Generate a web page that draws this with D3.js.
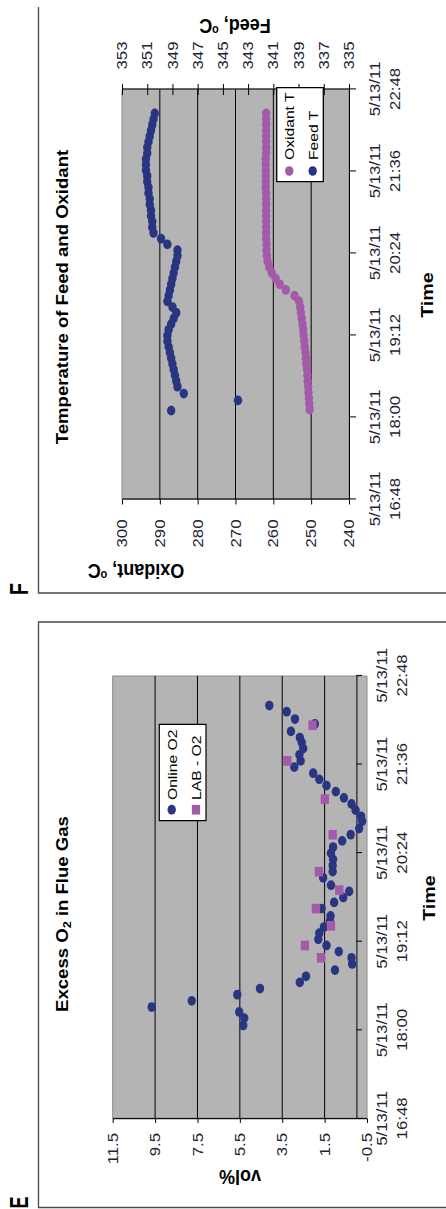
<!DOCTYPE html>
<html>
<head>
<meta charset="utf-8">
<script src="https://cdn.jsdelivr.net/npm/d3@7"></script>
<style>
  html, body { margin: 0; padding: 0; background: #fff; }
  svg { display: block; }
  text { font-family: "Liberation Sans", Arial, sans-serif; }
</style>
</head>
<body>
<svg id="fig" width="446" height="1209"></svg>
<script>
// ---- Panel F: temperature of feed and oxidant ----
const feedTimes = ["18:06","18:15","18:21","18:27","18:32","18:37","18:42","18:47","18:52","18:57",
  "19:02","19:07","19:12","19:17","19:22","19:27","19:32","19:37","19:42","19:47","19:52","19:57",
  "20:02","20:07","20:12","20:17","20:22","20:27","20:32","20:37","20:42","20:47","20:52","20:57",
  "21:02","21:07","21:12","21:17","21:22","21:27","21:32","21:37","21:42","21:47","21:52","21:57",
  "22:02","22:07","22:12","22:17","22:22","22:27"];
const feedTemps = [349.1, 343.8, 348.1, 348.6, 348.7, 348.8, 348.9, 349.0, 349.1, 349.2,
  349.3, 349.4, 349.4, 349.3, 349.1, 348.9, 348.7, 349.0, 349.4, 349.3, 349.2, 349.1,
  349.0, 348.9, 348.8, 348.7, 348.6, 348.6, 349.4, 349.9, 350.5, 350.6, 350.6, 350.7,
  350.7, 350.8, 350.8, 350.9, 350.9, 351.0, 351.0, 351.1, 351.1, 351.1, 351.0, 351.0,
  350.9, 350.8, 350.7, 350.6, 350.5, 350.4];

const oxidantTimes = ["18:07","18:12","18:17","18:22","18:27","18:32","18:37","18:42","18:47","18:52","18:57",
  "19:02","19:07","19:12","19:17","19:22","19:27","19:32","19:37","19:42","19:47","19:52","19:57",
  "20:02","20:07","20:12","20:17","20:22","20:27","20:32","20:37","20:42","20:47","20:52","20:57",
  "21:02","21:07","21:12","21:17","21:22","21:27","21:32","21:37","21:42","21:47","21:52","21:57",
  "22:02","22:07","22:12","22:17","22:22","22:27"];
const oxidantTemps = [250.4, 250.5, 250.6, 250.7, 250.8, 250.9, 251.0, 251.1, 251.3, 251.4, 251.5,
  251.7, 251.8, 252.0, 252.1, 252.3, 252.5, 252.7, 252.9, 253.2, 254.4, 256.7, 258.3,
  259.4, 260.4, 261.1, 261.5, 261.7, 261.8, 261.8, 261.9, 261.9, 261.9, 261.9, 261.9,
  261.9, 261.9, 261.9, 261.9, 262.0, 262.0, 262.0, 262.0, 262.0, 262.0, 261.9, 261.9,
  261.9, 261.9, 261.9, 261.9, 261.9, 261.9];

const oxidantTicks = [240, 250, 260, 270, 280, 290, 300];
const oxidantGrid = [250, 260, 270, 280, 290];
const feedTicks = [335, 337, 339, 341, 343, 345, 347, 349, 351, 353];

// ---- Panel E: excess O2 in flue gas ----
const onlineTimes = ["18:04","18:10","18:15","18:19","18:24","18:29","18:34","18:39","18:44","18:49",
  "18:54","18:59","19:04","19:09","19:14","19:19","19:24","19:29","19:33","19:39","19:44","19:48",
  "19:53","19:58","20:04","20:09","20:14","20:19","20:24","20:29","20:34","20:39","20:44","20:50",
  "20:54","20:59","21:04","21:09","21:14","21:19","21:24","21:29","21:34","21:39","21:44","21:49",
  "21:54","21:58","22:03","22:09","22:13","22:19","22:24"];
const onlineO2 = [5.34, 5.29, 5.53, 9.66, 7.77, 5.62, 4.55, 2.67, 2.38, 1.01,
  0.20, 0.23, 0.83, 1.41, 1.80, 1.75, 1.53, 1.25, 1.22, 1.64, 1.05, 0.62,
  0.34, 1.20, 1.57, 1.12, 1.12, 1.10, 1.20, 1.10, 0.67, 0.27, -0.13, -0.27,
  -0.22, 0.04, 0.23, 0.59, 0.97, 1.41, 1.75, 2.04, 2.93, 2.63, 2.69, 2.51,
  2.58, 2.67, 3.09, 1.96, 2.90, 3.29, 4.11];

const labTimes = ["18:59","19:09","19:25","19:39","19:54","20:09","20:39","21:08","21:39","22:08"];
const labO2 = [1.67, 2.43, 1.20, 1.91, 0.81, 1.77, 1.12, 1.49, 3.26, 2.07];

const o2Ticks = [-0.5, 1.5, 3.5, 5.5, 7.5, 9.5, 11.5];
const o2Grid = [1.5, 3.5, 5.5, 7.5, 9.5];

// shared time axis
const timeTicks = ["16:48", "18:00", "19:12", "20:24", "21:36", "22:48"];
const tickDate = "5/13/11";

// ---- layout ----
// The page is drawn turned a quarter turn: the chart's own horizontal axis runs
// up the page. SX stretches that direction slightly.
const W = 446, H = 1209, SX = 1.16;
const sy = Y => (H - Y) / SX;           // page row -> chart x
const parseT = d3.timeParse("%H:%M");

const NAVY = "#2a3582", PURPLE = "#a35aa8", PLOT = "#b4b4b5", INK = "#1e2433";
const TICK_FONT = 14.5;

const svg = d3.select("#fig");
const page = svg.append("g")
  .attr("transform", `translate(0,${H}) rotate(-90) scale(${SX},1)`);

function styleAxis(ax) {
  ax.attr("font-family", '"Liberation Sans", Arial, sans-serif').attr("font-size", TICK_FONT);
  ax.selectAll("path, line").attr("stroke", "#000").attr("stroke-width", 1)
    .attr("vector-effect", "non-scaling-stroke");
  ax.selectAll("text").attr("fill", INK);
}

function timeAxis(g, x, yPos, tickLen, base1, base2) {
  const ax = g.append("g").attr("transform", `translate(0,${yPos})`)
    .call(d3.axisBottom(x).tickValues(timeTicks.map(parseT))
      .tickSize(tickLen).tickSizeOuter(0).tickFormat(""));
  styleAxis(ax);
  ax.selectAll(".tick text").remove();
  const t = ax.selectAll(".tick").append("text")
    .attr("text-anchor", "middle").attr("fill", INK).attr("font-size", TICK_FONT);
  t.append("tspan").attr("x", 0).attr("y", base1).text(tickDate);
  t.append("tspan").attr("x", 0).attr("y", base2).text((d, i) => timeTicks[i]);
  return ax;
}

function line(g, d) {
  return g.append("path").attr("d", d).attr("fill", "none")
    .attr("vector-effect", "non-scaling-stroke");
}

// =================== Panel E ===================
{
  const g = page.append("g");
  line(g, `M${sy(1207.5)},${W + 5} V38.5 H${sy(622)} V${W + 5}`)
    .attr("stroke", "#4a4a4a").attr("stroke-width", 1.3);

  const x = d3.scaleTime().domain([parseT("16:48"), parseT("22:48")]).range([sy(1119), sy(676)]);
  const y = d3.scaleLinear().domain([-0.5, 11.5]).range([367, 112.7]);
  const [x0, x1] = x.range();

  g.append("rect").attr("x", x0).attr("y", y(11.5)).attr("width", x1 - x0)
    .attr("height", y(-0.5) - y(11.5)).attr("fill", PLOT)
    .attr("stroke", "#8a8a8a").attr("stroke-width", 1).attr("vector-effect", "non-scaling-stroke");

  g.selectAll("line.grid").data(o2Grid).join("line").attr("class", "grid")
    .attr("x1", x0).attr("x2", x1).attr("y1", d => y(d)).attr("y2", d => y(d))
    .attr("stroke", "#000").attr("stroke-width", 1).attr("vector-effect", "non-scaling-stroke");

  const yAx = g.append("g").attr("transform", `translate(${x0},0)`)
    .call(d3.axisLeft(y).tickValues(o2Ticks).tickSize(3.4).tickSizeOuter(0)
      .tickPadding(8.6).tickFormat(d => d.toFixed(1)));
  styleAxis(yAx);

  timeAxis(g, x, y(0), 5.6, 30.6, 50.6);

  g.selectAll("circle.online").data(onlineTimes.map((t, i) => ({ t: parseT(t), v: onlineO2[i] })))
    .join("circle").attr("class", "online")
    .attr("cx", d => x(d.t)).attr("cy", d => y(d.v)).attr("r", 4.2).attr("fill", NAVY);

  g.selectAll("rect.lab").data(labTimes.map((t, i) => ({ t: parseT(t), v: labO2[i] })))
    .join("rect").attr("class", "lab")
    .attr("x", d => x(d.t) - 4.15).attr("y", d => y(d.v) - 4.15)
    .attr("width", 8.3).attr("height", 8.3).attr("fill", PURPLE);

  // legend
  const lg = g.append("g");
  lg.append("rect").attr("x", sy(820.6)).attr("y", 159.3).attr("width", sy(724.3) - sy(820.6))
    .attr("height", 46.7).attr("fill", "#fff").attr("stroke", "#000").attr("stroke-width", 1.2)
    .attr("vector-effect", "non-scaling-stroke");
  lg.append("circle").attr("cx", sy(809.7)).attr("cy", 171.7).attr("r", 4.2).attr("fill", NAVY);
  lg.append("rect").attr("x", sy(809.7) - 4.15).attr("y", 196 - 4.15).attr("width", 8.3)
    .attr("height", 8.3).attr("fill", PURPLE);
  lg.append("text").attr("x", sy(800)).attr("y", 177).attr("font-size", 13.5).attr("fill", "#000").text("Online O2");
  lg.append("text").attr("x", sy(800)).attr("y", 201.5).attr("font-size", 13.5).attr("fill", "#000").text("LAB - O2");

  // titles
  const title = g.append("text").attr("x", sy(914)).attr("y", 68.5).attr("text-anchor", "middle")
    .attr("font-size", 16).attr("font-weight", "bold").attr("fill", "#000");
  title.append("tspan").text("Excess O");
  title.append("tspan").attr("font-size", 11).attr("dy", 3).text("2");
  title.append("tspan").attr("dy", -3).text(" in Flue Gas");

  g.append("text").attr("x", sy(898)).attr("y", 435).attr("text-anchor", "middle")
    .attr("font-size", 17).attr("font-weight", "bold").attr("fill", "#000").text("Time");

  g.append("text").attr("transform", `translate(${sy(1170)},240) rotate(-90)`)
    .attr("text-anchor", "middle").attr("font-size", 18).attr("font-weight", "bold")
    .attr("fill", "#000").text("vol%");

  g.append("text").attr("x", sy(1202.5)).attr("y", 28).attr("text-anchor", "middle")
    .attr("font-size", 26).attr("font-weight", "bold").attr("fill", "#000")
    .attr("textLength", 10.3).attr("lengthAdjust", "spacingAndGlyphs").text("E");
}

// =================== Panel F ===================
{
  const g = page.append("g");
  line(g, `M${sy(7)},38.5 H${sy(593)} V${W + 5}`)
    .attr("stroke", "#4a4a4a").attr("stroke-width", 1.3);

  const x = d3.scaleTime().domain([parseT("16:48"), parseT("22:48")]).range([sy(499.5), sy(89.5)]);
  const yOx = d3.scaleLinear().domain([240, 300]).range([349, 122]);
  const yFeed = d3.scaleLinear().domain([335, 353]).range([349, 122]);
  const [x0, x1] = x.range();

  g.append("rect").attr("x", x0).attr("y", yOx(300)).attr("width", x1 - x0)
    .attr("height", yOx(240) - yOx(300)).attr("fill", PLOT)
    .attr("stroke", "#8a8a8a").attr("stroke-width", 1).attr("vector-effect", "non-scaling-stroke");

  g.selectAll("line.grid").data(oxidantGrid).join("line").attr("class", "grid")
    .attr("x1", x0).attr("x2", x1).attr("y1", d => yOx(d)).attr("y2", d => yOx(d))
    .attr("stroke", "#000").attr("stroke-width", 1).attr("vector-effect", "non-scaling-stroke");

  const oxAx = g.append("g").attr("transform", `translate(${x0},0)`)
    .call(d3.axisLeft(yOx).tickValues(oxidantTicks).tickSize(4.3).tickSizeOuter(0).tickPadding(12.9));
  styleAxis(oxAx);

  const feedAx = g.append("g").attr("transform", `translate(${x1},0)`)
    .call(d3.axisRight(yFeed).tickValues(feedTicks).tickSize(4.8).tickSizeOuter(0).tickPadding(12.4));
  styleAxis(feedAx);
  feedAx.selectAll(".tick line").attr("x1", -4.8);

  timeAxis(g, x, yOx(240), 7, 31, 51);

  g.selectAll("circle.ox").data(oxidantTimes.map((t, i) => ({ t: parseT(t), v: oxidantTemps[i] })))
    .join("circle").attr("class", "ox")
    .attr("cx", d => x(d.t)).attr("cy", d => yOx(d.v)).attr("r", 4.2).attr("fill", PURPLE);

  g.selectAll("circle.feed").data(feedTimes.map((t, i) => ({ t: parseT(t), v: feedTemps[i] })))
    .join("circle").attr("class", "feed")
    .attr("cx", d => x(d.t)).attr("cy", d => yFeed(d.v)).attr("r", 4.2).attr("fill", NAVY);

  // legend
  const lg = g.append("g");
  lg.append("rect").attr("x", sy(181.7)).attr("y", 276.7).attr("width", sy(87.7) - sy(181.7))
    .attr("height", 46.6).attr("fill", "#fff").attr("stroke", "#000").attr("stroke-width", 1.3)
    .attr("vector-effect", "non-scaling-stroke");
  lg.append("circle").attr("cx", sy(171)).attr("cy", 289.3).attr("r", 4.2).attr("fill", PURPLE);
  lg.append("circle").attr("cx", sy(171)).attr("cy", 312.7).attr("r", 4.2).attr("fill", NAVY);
  lg.append("text").attr("x", sy(160)).attr("y", 294.5).attr("font-size", 13.5).attr("fill", "#000").text("Oxidant T");
  lg.append("text").attr("x", sy(160)).attr("y", 318).attr("font-size", 13.5).attr("fill", "#000").text("Feed T");

  // titles
  g.append("text").attr("x", sy(297)).attr("y", 68.5).attr("text-anchor", "middle")
    .attr("font-size", 16).attr("font-weight", "bold").attr("fill", "#000")
    .text("Temperature of Feed and Oxidant");

  g.append("text").attr("x", sy(295)).attr("y", 433).attr("text-anchor", "middle")
    .attr("font-size", 17).attr("font-weight", "bold").attr("fill", "#000").text("Time");

  const oxT = g.append("text").attr("transform", `translate(${sy(564)},136) rotate(-90)`)
    .attr("text-anchor", "middle").attr("font-size", 18).attr("font-weight", "bold").attr("fill", "#000");
  oxT.append("tspan").text("Oxidant, ");
  oxT.append("tspan").attr("font-size", 11).attr("dy", -6).text("o");
  oxT.append("tspan").attr("dy", 6).text("C");

  const feT = g.append("text").attr("transform", `translate(${sy(19)},235) rotate(-90)`)
    .attr("text-anchor", "middle").attr("font-size", 18).attr("font-weight", "bold").attr("fill", "#000");
  feT.append("tspan").text("Feed, ");
  feT.append("tspan").attr("font-size", 11).attr("dy", -6).text("o");
  feT.append("tspan").attr("dy", 6).text("C");

  g.append("text").attr("x", sy(589)).attr("y", 28).attr("text-anchor", "middle")
    .attr("font-size", 26).attr("font-weight", "bold").attr("fill", "#000")
    .attr("textLength", 10.3).attr("lengthAdjust", "spacingAndGlyphs").text("F");
}
</script>
</body>
</html>
